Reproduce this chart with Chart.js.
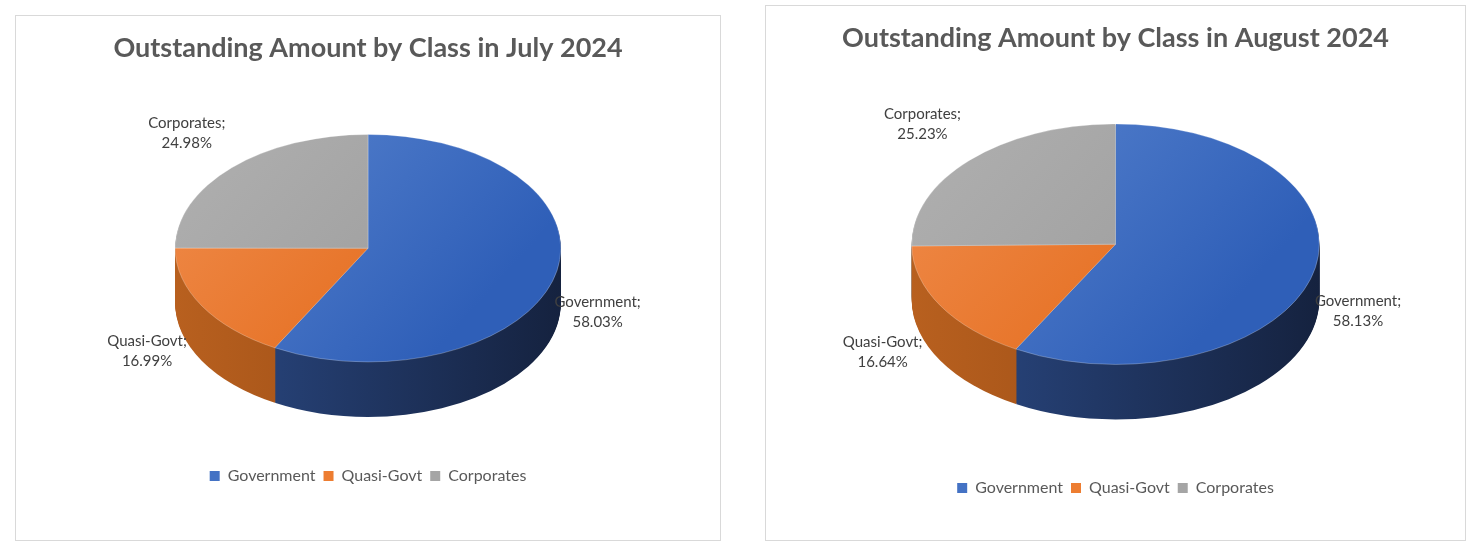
<!DOCTYPE html>
<html><head><meta charset="utf-8">
<script src="https://cdn.jsdelivr.net/npm/chart.js@4/dist/chart.umd.min.js"></script>
<style>
body{margin:0;background:#fff;width:1470px;height:546px;position:relative;overflow:hidden;font-family:Lato,sans-serif}
.box{position:absolute;border:1px solid #d9d9d9;box-sizing:border-box}
</style></head><body>
<div class="box" style="left:15px;top:15px;width:706px;height:526px"><canvas id="c1"></canvas></div>
<div class="box" style="left:765px;top:5px;width:701px;height:536px"><canvas id="c2"></canvas></div>
<script>
// Two flattened "3D" pies, drawn from the arc elements Chart.js lays out.
const classes = ["Government", "Quasi-Govt", "Corporates"];
const july = [58.03, 16.99, 24.98];
const august = [58.13, 16.64, 25.23];
const topCol = ["#4472C4", "#ED7D31", "#A5A5A5"];
const sideCol = [["#2b4a86", "#15223f"], ["#b8601f", "#8a420f"], ["#8a8a8a", "#6a6a6a"]];
const lblName = ["Government;", "Quasi-Govt;", "Corporates;"];

const pie3d = {
  id: "pie3d",
  beforeDatasetsDraw(chart, args, o) {
    const ctx = chart.ctx, arcs = chart.getDatasetMeta(0).data;
    const a0 = arcs[0], cx = a0.x, cy = a0.y + o.dy, rx = a0.outerRadius, k = o.k, ry = rx * k;
    const path = (a, off) => {
      ctx.save(); ctx.translate(cx, cy + off); ctx.scale(1, k);
      ctx.beginPath(); ctx.moveTo(0, 0); ctx.arc(0, 0, rx, a.startAngle, a.endAngle); ctx.closePath();
      ctx.restore();
    };
    for (let d = o.depth; d >= 1; d--) arcs.forEach((a, i) => {
      const g = ctx.createLinearGradient(cx - rx, 0, cx + rx, 0);
      g.addColorStop(0, sideCol[i][0]); g.addColorStop(1, sideCol[i][1]);
      path(a, d); ctx.fillStyle = g; ctx.fill();
    });
    arcs.forEach((a, i) => {
      const g = ctx.createLinearGradient(cx - rx, cy - ry, cx + rx * 0.3, cy + ry);
      g.addColorStop(0, i === 0 ? "#5b86d0" : i === 1 ? "#f08c4c" : "#b0b0b0");
      g.addColorStop(1, i === 0 ? "#2f5fb8" : i === 1 ? "#e36a1a" : "#9c9c9c");
      path(a, 0); ctx.fillStyle = g; ctx.fill();
      ctx.strokeStyle = "rgba(255,255,255,0.25)"; ctx.lineWidth = 1; ctx.stroke();
    });
    // data labels
    const vals = chart.data.datasets[0].data;
    ctx.fillStyle = "#404040"; ctx.font = "15px Lato"; ctx.textAlign = "center"; ctx.textBaseline = "middle";
    arcs.forEach((a, i) => {
      const m = (a.startAngle + a.endAngle) / 2, s = Math.sin(m), c = Math.cos(m);
      const x = cx + c * rx * (c < 0 ? 1.33 : 1.23);
      const y = cy + s * ry * 1.3 + (s > 0 ? o.depth / 2 : -10);
      ctx.fillText(lblName[i], x, y - 10);
      ctx.fillText(vals[i].toFixed(2) + "%", x, y + 10);
    });
    return false;
  }
};

function make(id, title, vals, padBottom, dy) {
  return new Chart(document.getElementById(id), {
    type: "pie",
    data: { labels: classes, datasets: [{ data: vals, backgroundColor: topCol, borderWidth: 0 }] },
    options: {
      responsive: true, maintainAspectRatio: false, animation: false,
      layout: { padding: { top: 0, bottom: padBottom } },
      plugins: {
        title: { display: true, text: title, color: "#595959", font: { family: "Lato", size: 27, weight: "bold" }, padding: { top: 16, bottom: 10 } },
        legend: { position: "bottom", labels: { color: "#595959", font: { family: "Lato", size: 16 }, boxWidth: 10, boxHeight: 10, padding: 8 } },
        tooltip: { enabled: false },
        pie3d: { k: 0.59, depth: 55, dy: dy }
      }
    },
    plugins: [pie3d]
  });
}
make("c1", "Outstanding Amount by Class in July 2024", july, 46, -19);
make("c2", "Outstanding Amount by Class in August 2024", august, 34, -24);
</script>
</body></html>
